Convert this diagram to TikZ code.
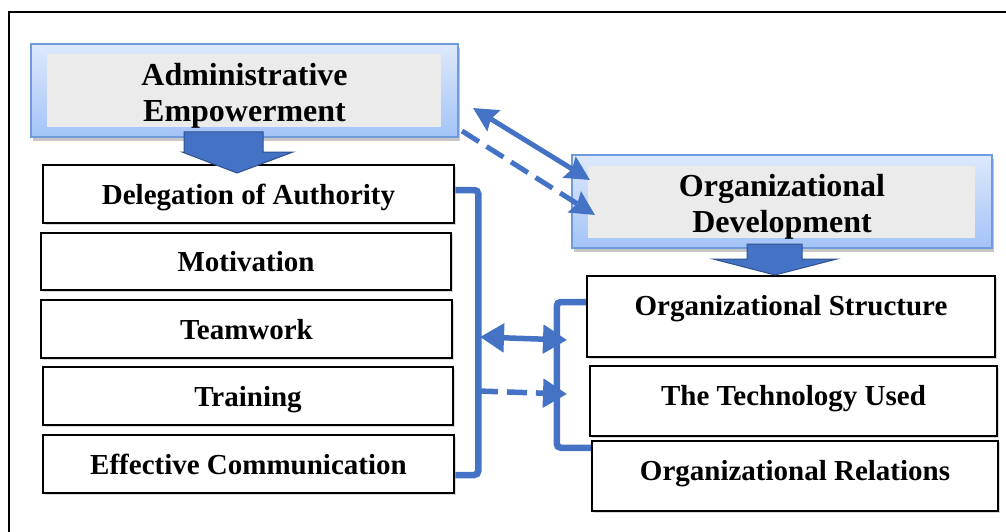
\documentclass[tikz,border=0pt]{standalone}
\usepackage{fontspec}
\setmainfont{Liberation Serif}
\usetikzlibrary{arrows.meta,shadows}
\definecolor{ublue}{HTML}{4472C4}
\definecolor{udark}{HTML}{2F528F}
\definecolor{gtop}{HTML}{DDE9FC}
\definecolor{gbot}{HTML}{A3C3F7}
\definecolor{gborder}{HTML}{6F9BDB}
\definecolor{ingrey}{HTML}{EBEBEB}
\tikzset{
  headbox/.style={draw=gborder, line width=1.5pt, top color=gtop, bottom color=gbot,
    drop shadow={opacity=0.45, shadow xshift=2pt, shadow yshift=-4pt}},
  headtext/.style={align=center, font=\bfseries\fontsize{32}{36}\selectfont, inner sep=0pt},
  itembox/.style={draw=black, line width=2.5pt, fill=white, inner sep=0pt,
    font=\bfseries\fontsize{29}{33}\selectfont,
    drop shadow={opacity=0.3, shadow xshift=1.5pt, shadow yshift=-1.5pt}},
  leftbox/.style={itembox, text height=20pt, text depth=0pt},
  itemtext/.style={font=\bfseries\fontsize{29}{33}\selectfont, inner sep=0pt},
  bracket/.style={draw=ublue, line width=6.5pt, rounded corners=4pt},
  blockarrow/.style={fill=ublue, draw=udark, line width=1pt},
  conn/.style={draw=ublue, line width=5.5pt},
  dashconn/.style={draw=ublue, line width=5.5pt, dash pattern=on 20pt off 9pt}
}
\begin{document}
\begin{tikzpicture}[x=1pt,y=-1pt]
\useasboundingbox (0,0) rectangle (1006,532);
% outer frame
\draw[line width=2.5pt] (9,540) -- (9,12) -- (1012,12);

% Administrative Empowerment
\node[headbox, minimum width=427pt, minimum height=93pt] (admin) at (244.5,90.5) {};
\fill[ingrey] (47,54) rectangle (441,127);
\node[headtext] (admint) at (244.5,96) {Administrative\\Empowerment};

% Organizational Development
\node[headbox, minimum width=420pt, minimum height=93pt] (orgdev) at (782,201.5) {};
\fill[ingrey] (588,166) rectangle (975,238);
\node[headtext] (orgdevt) at (782,207) {Organizational\\Development};

% left items
\node[leftbox, minimum width=411pt, minimum height=58pt] (del) at (248.5,194) {Delegation of Authority};
\node[leftbox, minimum width=410pt, minimum height=57pt] (mot) at (246,261.5) {Motivation};
\node[leftbox, minimum width=411pt, minimum height=58pt] (team) at (246.5,329) {Teamwork};
\node[leftbox, minimum width=410pt, minimum height=58pt] (train) at (248,396) {Training};
\node[leftbox, minimum width=411pt, minimum height=58pt] (eff) at (248.5,464) {Effective Communication};

% right items
\node[itembox, minimum width=408pt, minimum height=81pt] (struct) at (791,316.5) {};
\node[itemtext] (structt) at (791,309) {Organizational Structure};
\node[itembox, minimum width=407pt, minimum height=70pt] (tech) at (793.5,401) {};
\node[itemtext] (techt) at (793.5,399) {The Technology Used};
\node[itembox, minimum width=406pt, minimum height=70pt] (rel) at (795,476) {};
\node[itemtext] (relt) at (795,474) {Organizational Relations};

% block arrows
\path[blockarrow] (184,132) -- (263,132) -- (263,152) -- (293,152) -- (237,173) -- (182,152) -- (184,152) -- cycle;
\path[blockarrow] (747,244) -- (802,244) -- (802,259) -- (837,259) -- (775,275) -- (713,259) -- (747,259) -- cycle;

% brackets
\draw[bracket] ([yshift=4pt]del.east) -- ++(23,0) |- ([yshift=-11pt]eff.east);
\draw[bracket] ([yshift=14.5pt]struct.west) -- ++(-29,0) |- ([yshift=-8pt]rel.north west);

% connectors between brackets
\coordinate (hl1) at (480,337);
\coordinate (hr1) at (567,340);
\coordinate (hl2) at (478,391);
\coordinate (hr2) at (567,394);
\draw[conn, {Triangle[length=24pt,width=28pt]}-{Triangle[length=24pt,width=28pt]}] (hl1) -- (hr1);
\draw[dashconn, -{Triangle[length=24pt,width=28pt]}] (hl2) -- (hr2);

% diagonal connectors
\coordinate (d1a) at (473,108);
\coordinate (d1b) at (590,180);
\coordinate (d2a) at (462,131);
\coordinate (d2b) at (595,215);
\draw[conn, line width=5pt, {Stealth[length=24pt,width=24pt,inset=3pt]}-{Stealth[length=24pt,width=24pt,inset=3pt]}] (d1a) -- (d1b);
\draw[dashconn, line width=5pt, -{Stealth[length=24pt,width=24pt,inset=3pt]}] (d2a) -- (d2b);
\end{tikzpicture}
\end{document}
